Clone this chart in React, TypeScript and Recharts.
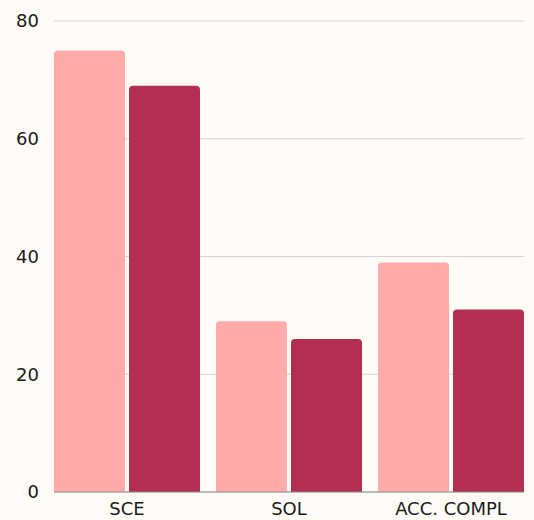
import { BarChart, Bar, XAxis, YAxis, CartesianGrid } from "recharts";

const categories = ["SCE", "SOL", "ACC. COMPL"];
const seriesA = [75, 29, 39];
const seriesB = [69, 26, 31];
const yTicks = [0, 20, 40, 60, 80];

const data = categories.map((name, i) => ({ name, a: seriesA[i], b: seriesB[i] }));

const tickStyle = { fontSize: 18, fill: "#1a1a1a", fontFamily: "DejaVu Sans" };

export default function App() {
  return (
    <div style={{ width: 534, height: 520, background: "#fffcf8" }}>
      <style>{`body{margin:0;background:#fffcf8}`}</style>
      <BarChart
        width={534}
        height={520}
        data={data}
        margin={{ top: 21, right: 10, bottom: 0, left: 0 }}
        barGap={4}
      >
        <CartesianGrid vertical={false} stroke="#d8d3ce" />
        <XAxis
          dataKey="name"
          height={28}
          padding={{ left: -8, right: -8 }}
          tickLine={false}
          axisLine={{ stroke: "#8a8a8a" }}
          tickMargin={4}
          tick={tickStyle}
        />
        <YAxis
          width={54}
          domain={[0, 80]}
          ticks={yTicks}
          axisLine={false}
          tickLine={false}
          tickMargin={9}
          tick={tickStyle}
        />
        <Bar dataKey="a" fill="#ffaaab" barSize={71} radius={[4, 4, 0, 0]} isAnimationActive={false} />
        <Bar dataKey="b" fill="#b32f52" barSize={71} radius={[4, 4, 0, 0]} isAnimationActive={false} />
      </BarChart>
    </div>
  );
}
